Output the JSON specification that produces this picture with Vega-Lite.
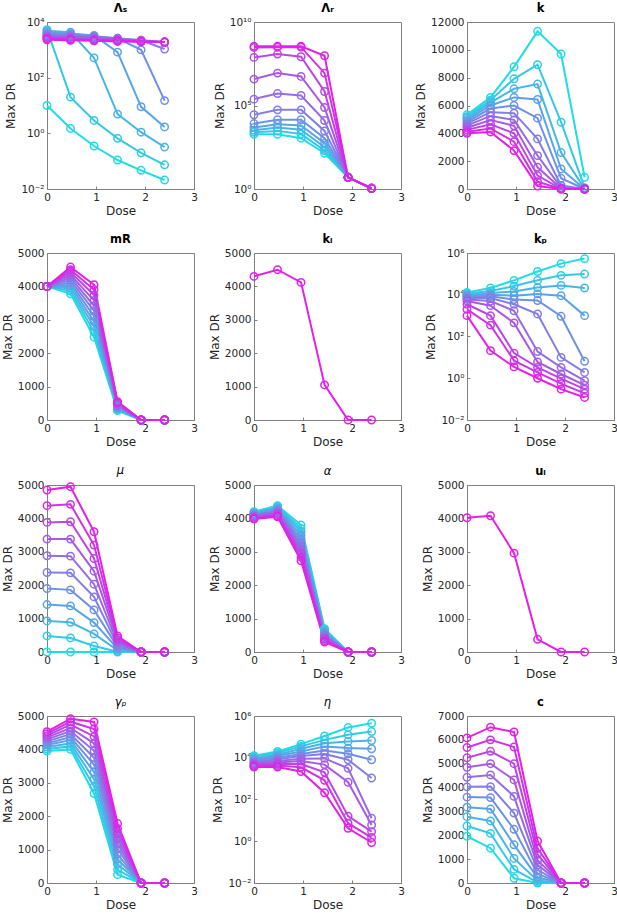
{
  "$schema": "https://vega.github.io/schema/vega-lite/v6.json",
  "padding": {"left": 0, "right": 0, "top": 2, "bottom": 2},
  "columns": 3,
  "spacing": {"row": 16, "column": 9},
  "datasets": {
    "LS": [
      {"s":0,"d":0,"v":10},{"s":0,"d":0.48,"v":1.5},{"s":0,"d":0.96,"v":0.35},{"s":0,"d":1.44,"v":0.11},{"s":0,"d":1.92,"v":0.047},{"s":0,"d":2.4,"v":0.021},
      {"s":1,"d":0,"v":5300},{"s":1,"d":0.48,"v":20},{"s":1,"d":0.96,"v":2.9},{"s":1,"d":1.44,"v":0.66},{"s":1,"d":1.92,"v":0.2},{"s":1,"d":2.4,"v":0.074},
      {"s":2,"d":0,"v":4800},{"s":2,"d":0.48,"v":4300},{"s":2,"d":0.96,"v":510},{"s":2,"d":1.44,"v":4.9},{"s":2,"d":1.92,"v":1.1},{"s":2,"d":2.4,"v":0.32},
      {"s":3,"d":0,"v":4300},{"s":3,"d":0.48,"v":3900},{"s":3,"d":0.96,"v":3300},{"s":3,"d":1.44,"v":830},{"s":3,"d":1.92,"v":9},{"s":3,"d":2.4,"v":1.7},
      {"s":4,"d":0,"v":3900},{"s":4,"d":0.48,"v":3600},{"s":4,"d":0.96,"v":3100},{"s":4,"d":1.44,"v":2600},{"s":4,"d":1.92,"v":1000},{"s":4,"d":2.4,"v":15},
      {"s":5,"d":0,"v":3500},{"s":5,"d":0.48,"v":3300},{"s":5,"d":0.96,"v":2900},{"s":5,"d":1.44,"v":2600},{"s":5,"d":1.92,"v":2200},{"s":5,"d":2.4,"v":1070},
      {"s":6,"d":0,"v":3200},{"s":6,"d":0.48,"v":3000},{"s":6,"d":0.96,"v":2700},{"s":6,"d":1.44,"v":2500},{"s":6,"d":1.92,"v":2200},{"s":6,"d":2.4,"v":1900},
      {"s":7,"d":0,"v":2900},{"s":7,"d":0.48,"v":2700},{"s":7,"d":0.96,"v":2500},{"s":7,"d":1.44,"v":2300},{"s":7,"d":1.92,"v":2100},{"s":7,"d":2.4,"v":1900},
      {"s":8,"d":0,"v":2700},{"s":8,"d":0.48,"v":2500},{"s":8,"d":0.96,"v":2300},{"s":8,"d":1.44,"v":2200},{"s":8,"d":1.92,"v":2000},{"s":8,"d":2.4,"v":1900},
      {"s":9,"d":0,"v":2500},{"s":9,"d":0.48,"v":2300},{"s":9,"d":0.96,"v":2200},{"s":9,"d":1.44,"v":2100},{"s":9,"d":1.92,"v":2000},{"s":9,"d":2.4,"v":1900},
      {"s":10,"d":0,"v":2300},{"s":10,"d":0.48,"v":2200},{"s":10,"d":0.96,"v":2100},{"s":10,"d":1.44,"v":2000},{"s":10,"d":1.92,"v":1950},{"s":10,"d":2.4,"v":1900}
    ],
    "LR": [
      {"s":0,"d":0,"v":1900},{"s":0,"d":0.48,"v":1900},{"s":0,"d":0.96,"v":1100},{"s":0,"d":1.44,"v":138},{"s":0,"d":1.92,"v":5},{"s":0,"d":2.4,"v":1.1},
      {"s":1,"d":0,"v":2500},{"s":1,"d":0.48,"v":3000},{"s":1,"d":0.96,"v":2000},{"s":1,"d":1.44,"v":200},{"s":1,"d":1.92,"v":5},{"s":1,"d":2.4,"v":1.1},
      {"s":2,"d":0,"v":3300},{"s":2,"d":0.48,"v":4800},{"s":2,"d":0.96,"v":3500},{"s":2,"d":1.44,"v":316},{"s":2,"d":1.92,"v":5},{"s":2,"d":2.4,"v":1.1},
      {"s":3,"d":0,"v":4800},{"s":3,"d":0.48,"v":7600},{"s":3,"d":0.96,"v":6300},{"s":3,"d":1.44,"v":550},{"s":3,"d":1.92,"v":5},{"s":3,"d":2.4,"v":1.1},
      {"s":4,"d":0,"v":8300},{"s":4,"d":0.48,"v":14000},{"s":4,"d":0.96,"v":14000},{"s":4,"d":1.44,"v":1100},{"s":4,"d":1.92,"v":5},{"s":4,"d":2.4,"v":1.1},
      {"s":5,"d":0,"v":28000},{"s":5,"d":0.48,"v":55000},{"s":5,"d":0.96,"v":55000},{"s":5,"d":1.44,"v":3000},{"s":5,"d":1.92,"v":5},{"s":5,"d":2.4,"v":1.1},
      {"s":6,"d":0,"v":240000},{"s":6,"d":0.48,"v":520000},{"s":6,"d":0.96,"v":400000},{"s":6,"d":1.44,"v":12600},{"s":6,"d":1.92,"v":5},{"s":6,"d":2.4,"v":1.1},
      {"s":7,"d":0,"v":3800000},{"s":7,"d":0.48,"v":8700000},{"s":7,"d":0.96,"v":5500000},{"s":7,"d":1.44,"v":76000},{"s":7,"d":1.92,"v":5},{"s":7,"d":2.4,"v":1.1},
      {"s":8,"d":0,"v":76000000},{"s":8,"d":0.48,"v":120000000},{"s":8,"d":0.96,"v":83000000},{"s":8,"d":1.44,"v":690000},{"s":8,"d":1.92,"v":5},{"s":8,"d":2.4,"v":1.1},
      {"s":9,"d":0,"v":300000000},{"s":9,"d":0.48,"v":310000000},{"s":9,"d":0.96,"v":310000000},{"s":9,"d":1.44,"v":8700000},{"s":9,"d":1.92,"v":5},{"s":9,"d":2.4,"v":1.1},
      {"s":10,"d":0,"v":350000000},{"s":10,"d":0.48,"v":350000000},{"s":10,"d":0.96,"v":350000000},{"s":10,"d":1.44,"v":95000000},{"s":10,"d":1.92,"v":5},{"s":10,"d":2.4,"v":1.1}
    ],
    "k": [
      {"s":0,"d":0,"v":5330},{"s":0,"d":0.48,"v":6580},{"s":0,"d":0.96,"v":8780},{"s":0,"d":1.44,"v":11330},{"s":0,"d":1.92,"v":9700},{"s":0,"d":2.4,"v":840},
      {"s":1,"d":0,"v":5200},{"s":1,"d":0.48,"v":6380},{"s":1,"d":0.96,"v":7920},{"s":1,"d":1.44,"v":8930},{"s":1,"d":1.92,"v":4800},{"s":1,"d":2.4,"v":100},
      {"s":2,"d":0,"v":5080},{"s":2,"d":0.48,"v":6200},{"s":2,"d":0.96,"v":7200},{"s":2,"d":1.44,"v":7540},{"s":2,"d":1.92,"v":2620},{"s":2,"d":2.4,"v":20},
      {"s":3,"d":0,"v":4950},{"s":3,"d":0.48,"v":6000},{"s":3,"d":0.96,"v":6580},{"s":3,"d":1.44,"v":6430},{"s":3,"d":1.92,"v":1440},{"s":3,"d":2.4,"v":0},
      {"s":4,"d":0,"v":4820},{"s":4,"d":0.48,"v":5780},{"s":4,"d":0.96,"v":6000},{"s":4,"d":1.44,"v":5090},{"s":4,"d":1.92,"v":770},{"s":4,"d":2.4,"v":0},
      {"s":5,"d":0,"v":4700},{"s":5,"d":0.48,"v":5520},{"s":5,"d":0.96,"v":5450},{"s":5,"d":1.44,"v":3600},{"s":5,"d":1.92,"v":250},{"s":5,"d":2.4,"v":0},
      {"s":6,"d":0,"v":4550},{"s":6,"d":0.48,"v":5250},{"s":6,"d":0.96,"v":4970},{"s":6,"d":1.44,"v":2400},{"s":6,"d":1.92,"v":100},{"s":6,"d":2.4,"v":0},
      {"s":7,"d":0,"v":4400},{"s":7,"d":0.48,"v":4950},{"s":7,"d":0.96,"v":4540},{"s":7,"d":1.44,"v":1560},{"s":7,"d":1.92,"v":40},{"s":7,"d":2.4,"v":0},
      {"s":8,"d":0,"v":4250},{"s":8,"d":0.48,"v":4650},{"s":8,"d":0.96,"v":4000},{"s":8,"d":1.44,"v":960},{"s":8,"d":1.92,"v":10},{"s":8,"d":2.4,"v":0},
      {"s":9,"d":0,"v":4120},{"s":9,"d":0.48,"v":4350},{"s":9,"d":0.96,"v":3400},{"s":9,"d":1.44,"v":530},{"s":9,"d":1.92,"v":0},{"s":9,"d":2.4,"v":0},
      {"s":10,"d":0,"v":4000},{"s":10,"d":0.48,"v":4100},{"s":10,"d":0.96,"v":2760},{"s":10,"d":1.44,"v":216},{"s":10,"d":1.92,"v":0},{"s":10,"d":2.4,"v":0}
    ],
    "mR": [
      {"s":0,"d":0,"v":4000},{"s":0,"d":0.48,"v":3780},{"s":0,"d":0.96,"v":2480},{"s":0,"d":1.44,"v":280},{"s":0,"d":1.92,"v":0},{"s":0,"d":2.4,"v":0},
      {"s":1,"d":0,"v":4000},{"s":1,"d":0.48,"v":3860},{"s":1,"d":0.96,"v":2640},{"s":1,"d":1.44,"v":310},{"s":1,"d":1.92,"v":0},{"s":1,"d":2.4,"v":0},
      {"s":2,"d":0,"v":4000},{"s":2,"d":0.48,"v":3940},{"s":2,"d":0.96,"v":2800},{"s":2,"d":1.44,"v":340},{"s":2,"d":1.92,"v":0},{"s":2,"d":2.4,"v":0},
      {"s":3,"d":0,"v":4000},{"s":3,"d":0.48,"v":4020},{"s":3,"d":0.96,"v":2950},{"s":3,"d":1.44,"v":360},{"s":3,"d":1.92,"v":0},{"s":3,"d":2.4,"v":0},
      {"s":4,"d":0,"v":4000},{"s":4,"d":0.48,"v":4100},{"s":4,"d":0.96,"v":3110},{"s":4,"d":1.44,"v":390},{"s":4,"d":1.92,"v":0},{"s":4,"d":2.4,"v":0},
      {"s":5,"d":0,"v":4000},{"s":5,"d":0.48,"v":4180},{"s":5,"d":0.96,"v":3270},{"s":5,"d":1.44,"v":420},{"s":5,"d":1.92,"v":0},{"s":5,"d":2.4,"v":0},
      {"s":6,"d":0,"v":4000},{"s":6,"d":0.48,"v":4260},{"s":6,"d":0.96,"v":3420},{"s":6,"d":1.44,"v":440},{"s":6,"d":1.92,"v":0},{"s":6,"d":2.4,"v":0},
      {"s":7,"d":0,"v":4000},{"s":7,"d":0.48,"v":4340},{"s":7,"d":0.96,"v":3580},{"s":7,"d":1.44,"v":470},{"s":7,"d":1.92,"v":0},{"s":7,"d":2.4,"v":0},
      {"s":8,"d":0,"v":4000},{"s":8,"d":0.48,"v":4420},{"s":8,"d":0.96,"v":3740},{"s":8,"d":1.44,"v":500},{"s":8,"d":1.92,"v":0},{"s":8,"d":2.4,"v":0},
      {"s":9,"d":0,"v":4000},{"s":9,"d":0.48,"v":4500},{"s":9,"d":0.96,"v":3900},{"s":9,"d":1.44,"v":520},{"s":9,"d":1.92,"v":0},{"s":9,"d":2.4,"v":0},
      {"s":10,"d":0,"v":4000},{"s":10,"d":0.48,"v":4580},{"s":10,"d":0.96,"v":4050},{"s":10,"d":1.44,"v":550},{"s":10,"d":1.92,"v":0},{"s":10,"d":2.4,"v":0}
    ],
    "ki": [
      {"s":10,"d":0,"v":4300},{"s":10,"d":0.48,"v":4500},{"s":10,"d":0.96,"v":4120},{"s":10,"d":1.44,"v":1050},{"s":10,"d":1.92,"v":0},{"s":10,"d":2.4,"v":0}
    ],
    "kp": [
      {"s":0,"d":0,"v":13000},{"s":0,"d":0.48,"v":21000},{"s":0,"d":0.96,"v":49000},{"s":0,"d":1.44,"v":130000},{"s":0,"d":1.92,"v":310000},{"s":0,"d":2.4,"v":540000},
      {"s":1,"d":0,"v":11500},{"s":1,"d":0.48,"v":15000},{"s":1,"d":0.96,"v":26000},{"s":1,"d":1.44,"v":49000},{"s":1,"d":1.92,"v":85000},{"s":1,"d":2.4,"v":98000},
      {"s":2,"d":0,"v":10000},{"s":2,"d":0.48,"v":12000},{"s":2,"d":0.96,"v":14500},{"s":2,"d":1.44,"v":22000},{"s":2,"d":1.92,"v":28000},{"s":2,"d":2.4,"v":21000},
      {"s":3,"d":0,"v":9000},{"s":3,"d":0.48,"v":10000},{"s":3,"d":0.96,"v":9000},{"s":3,"d":1.44,"v":11000},{"s":3,"d":1.92,"v":9000},{"s":3,"d":2.4,"v":1000},
      {"s":4,"d":0,"v":8000},{"s":4,"d":0.48,"v":8500},{"s":4,"d":0.96,"v":5900},{"s":4,"d":1.44,"v":5300},{"s":4,"d":1.92,"v":930},{"s":4,"d":2.4,"v":6.5},
      {"s":5,"d":0,"v":7000},{"s":5,"d":0.48,"v":7000},{"s":5,"d":0.96,"v":3500},{"s":5,"d":1.44,"v":1200},{"s":5,"d":1.92,"v":10},{"s":5,"d":2.4,"v":1.9},
      {"s":6,"d":0,"v":6000},{"s":6,"d":0.48,"v":5000},{"s":6,"d":0.96,"v":1700},{"s":6,"d":1.44,"v":19},{"s":6,"d":1.92,"v":3.3},{"s":6,"d":2.4,"v":0.76},
      {"s":7,"d":0,"v":5000},{"s":7,"d":0.48,"v":3000},{"s":7,"d":0.96,"v":450},{"s":7,"d":1.44,"v":6},{"s":7,"d":1.92,"v":1.6},{"s":7,"d":2.4,"v":0.47},
      {"s":8,"d":0,"v":3500},{"s":8,"d":0.48,"v":1000},{"s":8,"d":0.96,"v":16},{"s":8,"d":1.44,"v":3.3},{"s":8,"d":1.92,"v":0.95},{"s":8,"d":2.4,"v":0.3},
      {"s":9,"d":0,"v":2000},{"s":9,"d":0.48,"v":350},{"s":9,"d":0.96,"v":7},{"s":9,"d":1.44,"v":1.9},{"s":9,"d":1.92,"v":0.55},{"s":9,"d":2.4,"v":0.19},
      {"s":10,"d":0,"v":1000},{"s":10,"d":0.48,"v":21},{"s":10,"d":0.96,"v":3.5},{"s":10,"d":1.44,"v":1},{"s":10,"d":1.92,"v":0.3},{"s":10,"d":2.4,"v":0.12}
    ],
    "mu": [
      {"s":0,"d":0,"v":0},{"s":0,"d":0.48,"v":0},{"s":0,"d":0.96,"v":0},{"s":0,"d":1.44,"v":0},{"s":0,"d":1.92,"v":0},{"s":0,"d":2.4,"v":0},
      {"s":1,"d":0,"v":480},{"s":1,"d":0.48,"v":420},{"s":1,"d":0.96,"v":180},{"s":1,"d":1.44,"v":10},{"s":1,"d":1.92,"v":0},{"s":1,"d":2.4,"v":0},
      {"s":2,"d":0,"v":930},{"s":2,"d":0.48,"v":890},{"s":2,"d":0.96,"v":540},{"s":2,"d":1.44,"v":50},{"s":2,"d":1.92,"v":0},{"s":2,"d":2.4,"v":0},
      {"s":3,"d":0,"v":1420},{"s":3,"d":0.48,"v":1380},{"s":3,"d":0.96,"v":880},{"s":3,"d":1.44,"v":100},{"s":3,"d":1.92,"v":0},{"s":3,"d":2.4,"v":0},
      {"s":4,"d":0,"v":1900},{"s":4,"d":0.48,"v":1860},{"s":4,"d":0.96,"v":1260},{"s":4,"d":1.44,"v":150},{"s":4,"d":1.92,"v":0},{"s":4,"d":2.4,"v":0},
      {"s":5,"d":0,"v":2380},{"s":5,"d":0.48,"v":2370},{"s":5,"d":0.96,"v":1650},{"s":5,"d":1.44,"v":200},{"s":5,"d":1.92,"v":0},{"s":5,"d":2.4,"v":0},
      {"s":6,"d":0,"v":2880},{"s":6,"d":0.48,"v":2870},{"s":6,"d":0.96,"v":2030},{"s":6,"d":1.44,"v":260},{"s":6,"d":1.92,"v":0},{"s":6,"d":2.4,"v":0},
      {"s":7,"d":0,"v":3380},{"s":7,"d":0.48,"v":3380},{"s":7,"d":0.96,"v":2420},{"s":7,"d":1.44,"v":320},{"s":7,"d":1.92,"v":0},{"s":7,"d":2.4,"v":0},
      {"s":8,"d":0,"v":3880},{"s":8,"d":0.48,"v":3900},{"s":8,"d":0.96,"v":2800},{"s":8,"d":1.44,"v":370},{"s":8,"d":1.92,"v":0},{"s":8,"d":2.4,"v":0},
      {"s":9,"d":0,"v":4380},{"s":9,"d":0.48,"v":4420},{"s":9,"d":0.96,"v":3200},{"s":9,"d":1.44,"v":420},{"s":9,"d":1.92,"v":0},{"s":9,"d":2.4,"v":0},
      {"s":10,"d":0,"v":4850},{"s":10,"d":0.48,"v":4950},{"s":10,"d":0.96,"v":3600},{"s":10,"d":1.44,"v":480},{"s":10,"d":1.92,"v":0},{"s":10,"d":2.4,"v":0}
    ],
    "al": [
      {"s":0,"d":0,"v":4200},{"s":0,"d":0.48,"v":4380},{"s":0,"d":0.96,"v":3800},{"s":0,"d":1.44,"v":700},{"s":0,"d":1.92,"v":0},{"s":0,"d":2.4,"v":0},
      {"s":1,"d":0,"v":4180},{"s":1,"d":0.48,"v":4350},{"s":1,"d":0.96,"v":3700},{"s":1,"d":1.44,"v":660},{"s":1,"d":1.92,"v":0},{"s":1,"d":2.4,"v":0},
      {"s":2,"d":0,"v":4160},{"s":2,"d":0.48,"v":4310},{"s":2,"d":0.96,"v":3600},{"s":2,"d":1.44,"v":620},{"s":2,"d":1.92,"v":0},{"s":2,"d":2.4,"v":0},
      {"s":3,"d":0,"v":4140},{"s":3,"d":0.48,"v":4280},{"s":3,"d":0.96,"v":3490},{"s":3,"d":1.44,"v":580},{"s":3,"d":1.92,"v":0},{"s":3,"d":2.4,"v":0},
      {"s":4,"d":0,"v":4110},{"s":4,"d":0.48,"v":4250},{"s":4,"d":0.96,"v":3380},{"s":4,"d":1.44,"v":540},{"s":4,"d":1.92,"v":0},{"s":4,"d":2.4,"v":0},
      {"s":5,"d":0,"v":4090},{"s":5,"d":0.48,"v":4220},{"s":5,"d":0.96,"v":3270},{"s":5,"d":1.44,"v":500},{"s":5,"d":1.92,"v":0},{"s":5,"d":2.4,"v":0},
      {"s":6,"d":0,"v":4070},{"s":6,"d":0.48,"v":4180},{"s":6,"d":0.96,"v":3160},{"s":6,"d":1.44,"v":460},{"s":6,"d":1.92,"v":0},{"s":6,"d":2.4,"v":0},
      {"s":7,"d":0,"v":4050},{"s":7,"d":0.48,"v":4150},{"s":7,"d":0.96,"v":3050},{"s":7,"d":1.44,"v":420},{"s":7,"d":1.92,"v":0},{"s":7,"d":2.4,"v":0},
      {"s":8,"d":0,"v":4030},{"s":8,"d":0.48,"v":4120},{"s":8,"d":0.96,"v":2950},{"s":8,"d":1.44,"v":380},{"s":8,"d":1.92,"v":0},{"s":8,"d":2.4,"v":0},
      {"s":9,"d":0,"v":4000},{"s":9,"d":0.48,"v":4080},{"s":9,"d":0.96,"v":2840},{"s":9,"d":1.44,"v":340},{"s":9,"d":1.92,"v":0},{"s":9,"d":2.4,"v":0},
      {"s":10,"d":0,"v":3980},{"s":10,"d":0.48,"v":4050},{"s":10,"d":0.96,"v":2730},{"s":10,"d":1.44,"v":300},{"s":10,"d":1.92,"v":0},{"s":10,"d":2.4,"v":0}
    ],
    "ui": [
      {"s":10,"d":0,"v":4020},{"s":10,"d":0.48,"v":4080},{"s":10,"d":0.96,"v":2960},{"s":10,"d":1.44,"v":380},{"s":10,"d":1.92,"v":0},{"s":10,"d":2.4,"v":0}
    ],
    "gp": [
      {"s":0,"d":0,"v":3950},{"s":0,"d":0.48,"v":4000},{"s":0,"d":0.96,"v":2680},{"s":0,"d":1.44,"v":250},{"s":0,"d":1.92,"v":0},{"s":0,"d":2.4,"v":0},
      {"s":1,"d":0,"v":4010},{"s":1,"d":0.48,"v":4090},{"s":1,"d":0.96,"v":2890},{"s":1,"d":1.44,"v":400},{"s":1,"d":1.92,"v":0},{"s":1,"d":2.4,"v":0},
      {"s":2,"d":0,"v":4070},{"s":2,"d":0.48,"v":4180},{"s":2,"d":0.96,"v":3110},{"s":2,"d":1.44,"v":560},{"s":2,"d":1.92,"v":0},{"s":2,"d":2.4,"v":0},
      {"s":3,"d":0,"v":4130},{"s":3,"d":0.48,"v":4280},{"s":3,"d":0.96,"v":3320},{"s":3,"d":1.44,"v":710},{"s":3,"d":1.92,"v":0},{"s":3,"d":2.4,"v":0},
      {"s":4,"d":0,"v":4180},{"s":4,"d":0.48,"v":4370},{"s":4,"d":0.96,"v":3540},{"s":4,"d":1.44,"v":860},{"s":4,"d":1.92,"v":0},{"s":4,"d":2.4,"v":0},
      {"s":5,"d":0,"v":4240},{"s":5,"d":0.48,"v":4460},{"s":5,"d":0.96,"v":3750},{"s":5,"d":1.44,"v":1020},{"s":5,"d":1.92,"v":0},{"s":5,"d":2.4,"v":0},
      {"s":6,"d":0,"v":4300},{"s":6,"d":0.48,"v":4550},{"s":6,"d":0.96,"v":3960},{"s":6,"d":1.44,"v":1170},{"s":6,"d":1.92,"v":0},{"s":6,"d":2.4,"v":0},
      {"s":7,"d":0,"v":4360},{"s":7,"d":0.48,"v":4640},{"s":7,"d":0.96,"v":4180},{"s":7,"d":1.44,"v":1320},{"s":7,"d":1.92,"v":0},{"s":7,"d":2.4,"v":0},
      {"s":8,"d":0,"v":4410},{"s":8,"d":0.48,"v":4740},{"s":8,"d":0.96,"v":4390},{"s":8,"d":1.44,"v":1470},{"s":8,"d":1.92,"v":0},{"s":8,"d":2.4,"v":0},
      {"s":9,"d":0,"v":4470},{"s":9,"d":0.48,"v":4830},{"s":9,"d":0.96,"v":4610},{"s":9,"d":1.44,"v":1630},{"s":9,"d":1.92,"v":0},{"s":9,"d":2.4,"v":0},
      {"s":10,"d":0,"v":4530},{"s":10,"d":0.48,"v":4920},{"s":10,"d":0.96,"v":4820},{"s":10,"d":1.44,"v":1780},{"s":10,"d":1.92,"v":0},{"s":10,"d":2.4,"v":0}
    ],
    "eta": [
      {"s":0,"d":0,"v":12600},{"s":0,"d":0.48,"v":20000},{"s":0,"d":0.96,"v":45000},{"s":0,"d":1.44,"v":110000},{"s":0,"d":1.92,"v":280000},{"s":0,"d":2.4,"v":450000},
      {"s":1,"d":0,"v":11000},{"s":1,"d":0.48,"v":17000},{"s":1,"d":0.96,"v":35000},{"s":1,"d":1.44,"v":72000},{"s":1,"d":1.92,"v":125000},{"s":1,"d":2.4,"v":180000},
      {"s":2,"d":0,"v":9500},{"s":2,"d":0.48,"v":14000},{"s":2,"d":0.96,"v":27000},{"s":2,"d":1.44,"v":50000},{"s":2,"d":1.92,"v":60000},{"s":2,"d":2.4,"v":67000},
      {"s":3,"d":0,"v":8500},{"s":3,"d":0.48,"v":12000},{"s":3,"d":0.96,"v":20000},{"s":3,"d":1.44,"v":35000},{"s":3,"d":1.92,"v":29000},{"s":3,"d":2.4,"v":27000},
      {"s":4,"d":0,"v":7500},{"s":4,"d":0.48,"v":10000},{"s":4,"d":0.96,"v":15000},{"s":4,"d":1.44,"v":22000},{"s":4,"d":1.92,"v":15500},{"s":4,"d":2.4,"v":8000},
      {"s":5,"d":0,"v":6500},{"s":5,"d":0.48,"v":8500},{"s":5,"d":0.96,"v":12000},{"s":5,"d":1.44,"v":15000},{"s":5,"d":1.92,"v":8000},{"s":5,"d":2.4,"v":1070},
      {"s":6,"d":0,"v":5700},{"s":6,"d":0.48,"v":7000},{"s":6,"d":0.96,"v":9000},{"s":6,"d":1.44,"v":9300},{"s":6,"d":1.92,"v":3100},{"s":6,"d":2.4,"v":12.6},
      {"s":7,"d":0,"v":5000},{"s":7,"d":0.48,"v":6000},{"s":7,"d":0.96,"v":7000},{"s":7,"d":1.44,"v":4700},{"s":7,"d":1.92,"v":670},{"s":7,"d":2.4,"v":6},
      {"s":8,"d":0,"v":4400},{"s":8,"d":0.48,"v":5000},{"s":8,"d":0.96,"v":5000},{"s":8,"d":1.44,"v":2000},{"s":8,"d":1.92,"v":16},{"s":8,"d":2.4,"v":2.9},
      {"s":9,"d":0,"v":4000},{"s":9,"d":0.48,"v":4200},{"s":9,"d":0.96,"v":3500},{"s":9,"d":1.44,"v":830},{"s":9,"d":1.92,"v":7.3},{"s":9,"d":2.4,"v":1.5},
      {"s":10,"d":0,"v":3600},{"s":10,"d":0.48,"v":3600},{"s":10,"d":0.96,"v":2200},{"s":10,"d":1.44,"v":210},{"s":10,"d":1.92,"v":4.2},{"s":10,"d":2.4,"v":0.87}
    ],
    "c": [
      {"s":0,"d":0,"v":1960},{"s":0,"d":0.48,"v":1460},{"s":0,"d":0.96,"v":200},{"s":0,"d":1.44,"v":0},{"s":0,"d":1.92,"v":0},{"s":0,"d":2.4,"v":0},
      {"s":1,"d":0,"v":2390},{"s":1,"d":0.48,"v":2080},{"s":1,"d":0.96,"v":570},{"s":1,"d":1.44,"v":30},{"s":1,"d":1.92,"v":0},{"s":1,"d":2.4,"v":0},
      {"s":2,"d":0,"v":2780},{"s":2,"d":0.48,"v":2600},{"s":2,"d":0.96,"v":1030},{"s":2,"d":1.44,"v":100},{"s":2,"d":1.92,"v":0},{"s":2,"d":2.4,"v":0},
      {"s":3,"d":0,"v":3180},{"s":3,"d":0.48,"v":3100},{"s":3,"d":0.96,"v":1600},{"s":3,"d":1.44,"v":230},{"s":3,"d":1.92,"v":0},{"s":3,"d":2.4,"v":0},
      {"s":4,"d":0,"v":3600},{"s":4,"d":0.48,"v":3580},{"s":4,"d":0.96,"v":2250},{"s":4,"d":1.44,"v":380},{"s":4,"d":1.92,"v":0},{"s":4,"d":2.4,"v":0},
      {"s":5,"d":0,"v":4030},{"s":5,"d":0.48,"v":4040},{"s":5,"d":0.96,"v":2930},{"s":5,"d":1.44,"v":550},{"s":5,"d":1.92,"v":0},{"s":5,"d":2.4,"v":0},
      {"s":6,"d":0,"v":4430},{"s":6,"d":0.48,"v":4530},{"s":6,"d":0.96,"v":3630},{"s":6,"d":1.44,"v":750},{"s":6,"d":1.92,"v":0},{"s":6,"d":2.4,"v":0},
      {"s":7,"d":0,"v":4850},{"s":7,"d":0.48,"v":5000},{"s":7,"d":0.96,"v":4320},{"s":7,"d":1.44,"v":950},{"s":7,"d":1.92,"v":0},{"s":7,"d":2.4,"v":0},
      {"s":8,"d":0,"v":5250},{"s":8,"d":0.48,"v":5520},{"s":8,"d":0.96,"v":5000},{"s":8,"d":1.44,"v":1200},{"s":8,"d":1.92,"v":0},{"s":8,"d":2.4,"v":0},
      {"s":9,"d":0,"v":5680},{"s":9,"d":0.48,"v":6000},{"s":9,"d":0.96,"v":5700},{"s":9,"d":1.44,"v":1450},{"s":9,"d":1.92,"v":0},{"s":9,"d":2.4,"v":0},
      {"s":10,"d":0,"v":6080},{"s":10,"d":0.48,"v":6530},{"s":10,"d":0.96,"v":6330},{"s":10,"d":1.44,"v":1760},{"s":10,"d":1.92,"v":0},{"s":10,"d":2.4,"v":0}
    ]
  },
  "concat": [
    {
      "title": {"text": "Λₛ"},
      "width": 147, "height": 167,
      "data": {"name": "LS"},
      "encoding": {
        "x": {"field": "d", "type": "quantitative", "title": "Dose", "scale": {"domain": [0, 3]}, "axis": {"values": [0, 1, 2, 3], "format": "d"}},
        "y": {"field": "v", "type": "quantitative", "title": "Max DR", "scale": {"type": "log", "domain": [0.01, 10000]}, "axis": {"values": [0.01, 1, 100, 10000], "labelExpr": "'10' + replace(replace(replace(replace(replace(replace(replace('' + round(log(datum.value) / LN10), '-', '⁻'), '0', '⁰'), '1', '¹'), '2', '²'), '4', '⁴'), '5', '⁵'), '6', '⁶')"}},
        "color": {"field": "s", "type": "quantitative", "scale": {"domain": [0, 10], "range": ["#1FDCE6", "#E41FE6"], "interpolate": "rgb"}, "legend": null},
        "detail": {"field": "s", "type": "nominal"}
      },
      "layer": [
        {"mark": {"type": "line", "strokeWidth": 2}},
        {"mark": {"type": "point", "filled": false, "size": 55, "strokeWidth": 1.5, "opacity": 1}}
      ]
    },
    {
      "title": {"text": "Λᵣ"},
      "width": 147, "height": 167,
      "data": {"name": "LR"},
      "encoding": {
        "x": {"field": "d", "type": "quantitative", "title": "Dose", "scale": {"domain": [0, 3]}, "axis": {"values": [0, 1, 2, 3], "format": "d"}},
        "y": {"field": "v", "type": "quantitative", "title": "Max DR", "scale": {"type": "log", "domain": [1, 10000000000]}, "axis": {"values": [1, 100000, 10000000000], "labelExpr": "'10' + replace(replace(replace(replace(replace(replace(replace('' + round(log(datum.value) / LN10), '-', '⁻'), '0', '⁰'), '1', '¹'), '2', '²'), '4', '⁴'), '5', '⁵'), '6', '⁶')"}},
        "color": {"field": "s", "type": "quantitative", "scale": {"domain": [0, 10], "range": ["#1FDCE6", "#E41FE6"], "interpolate": "rgb"}, "legend": null},
        "detail": {"field": "s", "type": "nominal"}
      },
      "layer": [
        {"mark": {"type": "line", "strokeWidth": 2}},
        {"mark": {"type": "point", "filled": false, "size": 55, "strokeWidth": 1.5, "opacity": 1}}
      ]
    },
    {
      "title": {"text": "k"},
      "width": 147, "height": 167,
      "data": {"name": "k"},
      "encoding": {
        "x": {"field": "d", "type": "quantitative", "title": "Dose", "scale": {"domain": [0, 3]}, "axis": {"values": [0, 1, 2, 3], "format": "d"}},
        "y": {"field": "v", "type": "quantitative", "title": "Max DR", "scale": {"domain": [0, 12000]}, "axis": {"values": [0, 2000, 4000, 6000, 8000, 10000, 12000], "format": "d"}},
        "color": {"field": "s", "type": "quantitative", "scale": {"domain": [0, 10], "range": ["#1FDCE6", "#E41FE6"], "interpolate": "rgb"}, "legend": null},
        "detail": {"field": "s", "type": "nominal"}
      },
      "layer": [
        {"mark": {"type": "line", "strokeWidth": 2}},
        {"mark": {"type": "point", "filled": false, "size": 55, "strokeWidth": 1.5, "opacity": 1}}
      ]
    },
    {
      "title": {"text": "mR"},
      "width": 147, "height": 167,
      "data": {"name": "mR"},
      "encoding": {
        "x": {"field": "d", "type": "quantitative", "title": "Dose", "scale": {"domain": [0, 3]}, "axis": {"values": [0, 1, 2, 3], "format": "d"}},
        "y": {"field": "v", "type": "quantitative", "title": "Max DR", "scale": {"domain": [0, 5000]}, "axis": {"values": [0, 1000, 2000, 3000, 4000, 5000], "format": "d"}},
        "color": {"field": "s", "type": "quantitative", "scale": {"domain": [0, 10], "range": ["#1FDCE6", "#E41FE6"], "interpolate": "rgb"}, "legend": null},
        "detail": {"field": "s", "type": "nominal"}
      },
      "layer": [
        {"mark": {"type": "line", "strokeWidth": 2}},
        {"mark": {"type": "point", "filled": false, "size": 55, "strokeWidth": 1.5, "opacity": 1}}
      ]
    },
    {
      "title": {"text": "kᵢ"},
      "width": 147, "height": 167,
      "data": {"name": "ki"},
      "encoding": {
        "x": {"field": "d", "type": "quantitative", "title": "Dose", "scale": {"domain": [0, 3]}, "axis": {"values": [0, 1, 2, 3], "format": "d"}},
        "y": {"field": "v", "type": "quantitative", "title": "Max DR", "scale": {"domain": [0, 5000]}, "axis": {"values": [0, 1000, 2000, 3000, 4000, 5000], "format": "d"}},
        "color": {"field": "s", "type": "quantitative", "scale": {"domain": [0, 10], "range": ["#1FDCE6", "#E41FE6"], "interpolate": "rgb"}, "legend": null},
        "detail": {"field": "s", "type": "nominal"}
      },
      "layer": [
        {"mark": {"type": "line", "strokeWidth": 2}},
        {"mark": {"type": "point", "filled": false, "size": 55, "strokeWidth": 1.5, "opacity": 1}}
      ]
    },
    {
      "title": {"text": "kₚ"},
      "width": 147, "height": 167,
      "data": {"name": "kp"},
      "encoding": {
        "x": {"field": "d", "type": "quantitative", "title": "Dose", "scale": {"domain": [0, 3]}, "axis": {"values": [0, 1, 2, 3], "format": "d"}},
        "y": {"field": "v", "type": "quantitative", "title": "Max DR", "scale": {"type": "log", "domain": [0.01, 1000000]}, "axis": {"values": [0.01, 1, 100, 10000, 1000000], "labelExpr": "'10' + replace(replace(replace(replace(replace(replace(replace('' + round(log(datum.value) / LN10), '-', '⁻'), '0', '⁰'), '1', '¹'), '2', '²'), '4', '⁴'), '5', '⁵'), '6', '⁶')"}},
        "color": {"field": "s", "type": "quantitative", "scale": {"domain": [0, 10], "range": ["#1FDCE6", "#E41FE6"], "interpolate": "rgb"}, "legend": null},
        "detail": {"field": "s", "type": "nominal"}
      },
      "layer": [
        {"mark": {"type": "line", "strokeWidth": 2}},
        {"mark": {"type": "point", "filled": false, "size": 55, "strokeWidth": 1.5, "opacity": 1}}
      ]
    },
    {
      "title": {"text": "μ", "fontWeight": "normal", "fontStyle": "italic"},
      "width": 147, "height": 167,
      "data": {"name": "mu"},
      "encoding": {
        "x": {"field": "d", "type": "quantitative", "title": "Dose", "scale": {"domain": [0, 3]}, "axis": {"values": [0, 1, 2, 3], "format": "d"}},
        "y": {"field": "v", "type": "quantitative", "title": "Max DR", "scale": {"domain": [0, 5000]}, "axis": {"values": [0, 1000, 2000, 3000, 4000, 5000], "format": "d"}},
        "color": {"field": "s", "type": "quantitative", "scale": {"domain": [0, 10], "range": ["#1FDCE6", "#E41FE6"], "interpolate": "rgb"}, "legend": null},
        "detail": {"field": "s", "type": "nominal"}
      },
      "layer": [
        {"mark": {"type": "line", "strokeWidth": 2}},
        {"mark": {"type": "point", "filled": false, "size": 55, "strokeWidth": 1.5, "opacity": 1}}
      ]
    },
    {
      "title": {"text": "α", "fontWeight": "normal", "fontStyle": "italic"},
      "width": 147, "height": 167,
      "data": {"name": "al"},
      "encoding": {
        "x": {"field": "d", "type": "quantitative", "title": "Dose", "scale": {"domain": [0, 3]}, "axis": {"values": [0, 1, 2, 3], "format": "d"}},
        "y": {"field": "v", "type": "quantitative", "title": "Max DR", "scale": {"domain": [0, 5000]}, "axis": {"values": [0, 1000, 2000, 3000, 4000, 5000], "format": "d"}},
        "color": {"field": "s", "type": "quantitative", "scale": {"domain": [0, 10], "range": ["#1FDCE6", "#E41FE6"], "interpolate": "rgb"}, "legend": null},
        "detail": {"field": "s", "type": "nominal"}
      },
      "layer": [
        {"mark": {"type": "line", "strokeWidth": 2}},
        {"mark": {"type": "point", "filled": false, "size": 55, "strokeWidth": 1.5, "opacity": 1}}
      ]
    },
    {
      "title": {"text": "uᵢ"},
      "width": 147, "height": 167,
      "data": {"name": "ui"},
      "encoding": {
        "x": {"field": "d", "type": "quantitative", "title": "Dose", "scale": {"domain": [0, 3]}, "axis": {"values": [0, 1, 2, 3], "format": "d"}},
        "y": {"field": "v", "type": "quantitative", "title": "Max DR", "scale": {"domain": [0, 5000]}, "axis": {"values": [0, 1000, 2000, 3000, 4000, 5000], "format": "d"}},
        "color": {"field": "s", "type": "quantitative", "scale": {"domain": [0, 10], "range": ["#1FDCE6", "#E41FE6"], "interpolate": "rgb"}, "legend": null},
        "detail": {"field": "s", "type": "nominal"}
      },
      "layer": [
        {"mark": {"type": "line", "strokeWidth": 2}},
        {"mark": {"type": "point", "filled": false, "size": 55, "strokeWidth": 1.5, "opacity": 1}}
      ]
    },
    {
      "title": {"text": "γₚ", "fontWeight": "normal", "fontStyle": "italic"},
      "width": 147, "height": 167,
      "data": {"name": "gp"},
      "encoding": {
        "x": {"field": "d", "type": "quantitative", "title": "Dose", "scale": {"domain": [0, 3]}, "axis": {"values": [0, 1, 2, 3], "format": "d"}},
        "y": {"field": "v", "type": "quantitative", "title": "Max DR", "scale": {"domain": [0, 5000]}, "axis": {"values": [0, 1000, 2000, 3000, 4000, 5000], "format": "d"}},
        "color": {"field": "s", "type": "quantitative", "scale": {"domain": [0, 10], "range": ["#1FDCE6", "#E41FE6"], "interpolate": "rgb"}, "legend": null},
        "detail": {"field": "s", "type": "nominal"}
      },
      "layer": [
        {"mark": {"type": "line", "strokeWidth": 2}},
        {"mark": {"type": "point", "filled": false, "size": 55, "strokeWidth": 1.5, "opacity": 1}}
      ]
    },
    {
      "title": {"text": "η", "fontWeight": "normal", "fontStyle": "italic"},
      "width": 147, "height": 167,
      "data": {"name": "eta"},
      "encoding": {
        "x": {"field": "d", "type": "quantitative", "title": "Dose", "scale": {"domain": [0, 3]}, "axis": {"values": [0, 1, 2, 3], "format": "d"}},
        "y": {"field": "v", "type": "quantitative", "title": "Max DR", "scale": {"type": "log", "domain": [0.01, 1000000]}, "axis": {"values": [0.01, 1, 100, 10000, 1000000], "labelExpr": "'10' + replace(replace(replace(replace(replace(replace(replace('' + round(log(datum.value) / LN10), '-', '⁻'), '0', '⁰'), '1', '¹'), '2', '²'), '4', '⁴'), '5', '⁵'), '6', '⁶')"}},
        "color": {"field": "s", "type": "quantitative", "scale": {"domain": [0, 10], "range": ["#1FDCE6", "#E41FE6"], "interpolate": "rgb"}, "legend": null},
        "detail": {"field": "s", "type": "nominal"}
      },
      "layer": [
        {"mark": {"type": "line", "strokeWidth": 2}},
        {"mark": {"type": "point", "filled": false, "size": 55, "strokeWidth": 1.5, "opacity": 1}}
      ]
    },
    {
      "title": {"text": "c"},
      "width": 147, "height": 167,
      "data": {"name": "c"},
      "encoding": {
        "x": {"field": "d", "type": "quantitative", "title": "Dose", "scale": {"domain": [0, 3]}, "axis": {"values": [0, 1, 2, 3], "format": "d"}},
        "y": {"field": "v", "type": "quantitative", "title": "Max DR", "scale": {"domain": [0, 7000]}, "axis": {"values": [0, 1000, 2000, 3000, 4000, 5000, 6000, 7000], "format": "d"}},
        "color": {"field": "s", "type": "quantitative", "scale": {"domain": [0, 10], "range": ["#1FDCE6", "#E41FE6"], "interpolate": "rgb"}, "legend": null},
        "detail": {"field": "s", "type": "nominal"}
      },
      "layer": [
        {"mark": {"type": "line", "strokeWidth": 2}},
        {"mark": {"type": "point", "filled": false, "size": 55, "strokeWidth": 1.5, "opacity": 1}}
      ]
    }
  ],
  "config": {
    "background": "white",
    "view": {"stroke": "#808080", "strokeWidth": 1},
    "axis": {
      "grid": false,
      "labelFlush": false,
      "labelOverlap": false,
      "labelFont": "DejaVu Sans",
      "labelFontSize": 10.5,
      "labelColor": "#262626",
      "titleFont": "DejaVu Sans",
      "titleFontSize": 12,
      "titleFontWeight": "normal",
      "titleColor": "#262626",
      "domainColor": "#808080",
      "tickColor": "#808080",
      "tickSize": -3,
      "labelPadding": 6,
      "titlePadding": 3
    },
    "title": {"font": "DejaVu Sans", "fontSize": 11.5, "fontWeight": "bold", "color": "#000000", "offset": 3}
  }
}
